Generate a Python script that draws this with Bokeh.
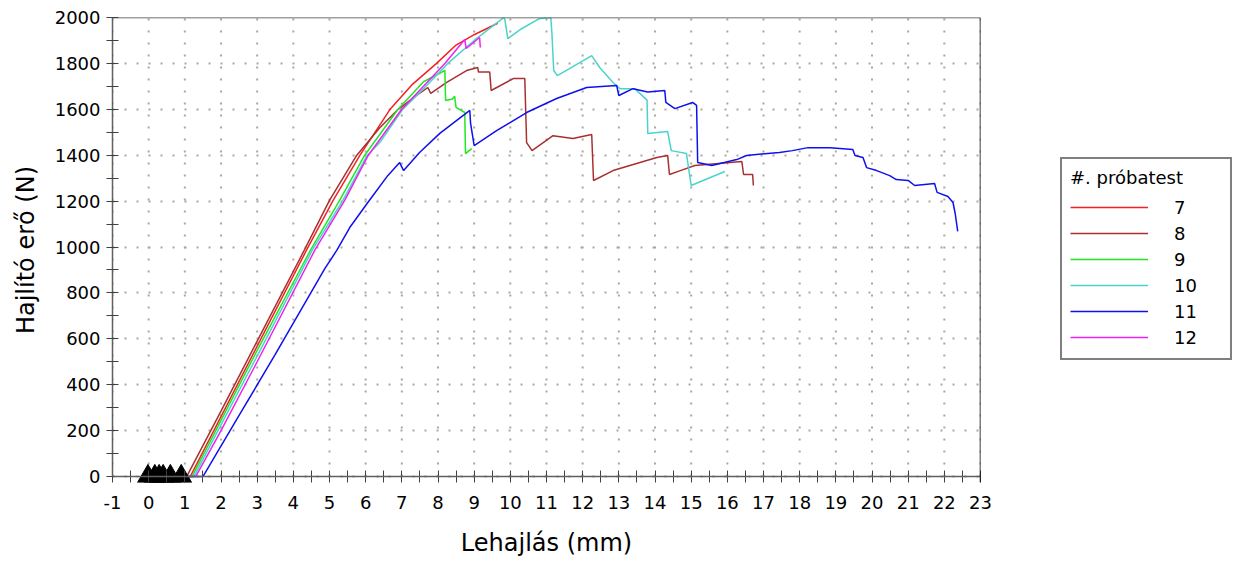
from bokeh.plotting import figure
from bokeh.layouts import row
from bokeh.models import Legend, LegendItem, FixedTicker, Range1d, Span
from bokeh.embed import file_html
from bokeh.resources import INLINE

# Three-point bending tests: bending force vs. deflection for specimens 7-12
specimens = ["7", "8", "9", "10", "11", "12"]
colors = ["#f52020", "#a83030", "#22e622", "#48d4cc", "#1010ee", "#f020f0"]

x7 = [0.0, 1.15, 2.0, 3.0, 4.36, 5.1, 5.84, 6.67, 7.3, 7.96, 8.5, 9.0, 9.65]
y7 = [0, 0, 261, 568, 985, 1203, 1399, 1599, 1710, 1800, 1880, 1925, 1975]

x8 = [0.0, 1.05, 2.0, 3.0, 4.3, 5.0, 5.75, 6.39, 6.9, 7.4, 7.72, 7.8, 8.24, 8.79,
      9.1, 9.12, 9.43, 9.47, 10.08, 10.4, 10.45, 10.6, 11.18, 11.73, 12.25, 12.3,
      12.84, 14.05, 14.35, 14.4, 14.7, 15.1, 16.4, 16.45, 16.7, 16.72]
y8 = [0, 0, 285, 590, 985, 1203, 1399, 1520, 1600, 1660, 1695, 1669, 1717, 1769,
      1782, 1762, 1762, 1682, 1734, 1734, 1455, 1420, 1485, 1473, 1490, 1290,
      1333, 1390, 1399, 1316, 1333, 1355, 1373, 1316, 1316, 1268]

x9 = [0.0, 1.2, 2.0, 3.0, 4.47, 5.28, 5.97, 6.89, 7.6, 8.19, 8.21, 8.4, 8.46,
      8.5, 8.74, 8.76, 8.93]
y9 = [0, 0, 245, 550, 985, 1203, 1399, 1599, 1720, 1769, 1638, 1645, 1657,
      1608, 1586, 1407, 1429]

x10 = [0.0, 1.25, 2.0, 3.0, 4.52, 5.37, 6.04, 6.39, 7.02, 7.6, 8.27, 9.0, 9.82,
       9.85, 9.93, 10.3, 10.8, 11.12, 11.15, 11.2, 11.3, 11.92, 12.25, 12.47,
       12.84, 13.03, 13.44, 13.78, 13.8, 14.35, 14.45, 14.87, 15.0, 15.93]
y10 = [0, 0, 225, 525, 985, 1203, 1399, 1455, 1599, 1690, 1800, 1900, 2000,
       1990, 1908, 1950, 1995, 2000, 1930, 1769, 1747, 1803, 1834, 1782,
       1717, 1690, 1690, 1640, 1495, 1503, 1420, 1407, 1268, 1329]

x11 = [0.9, 1.5, 2.5, 3.5, 4.87, 5.2, 5.56, 6.06, 6.61, 6.94, 7.05, 7.49, 8.05,
       8.88, 8.9, 9.0, 9.62, 10.45, 11.28, 12.11, 12.94, 13.0, 13.39, 13.8,
       14.27, 14.3, 14.55, 15.04, 15.15, 15.18, 15.57, 16.26, 16.53, 17.44,
       17.8, 18.23, 18.84, 19.47, 19.53, 19.75, 19.85, 20.13, 20.49, 20.67,
       21.0, 21.18, 21.73, 21.8, 22.1, 22.24, 22.3, 22.37]
y11 = [0, 0, 266, 532, 906, 985, 1085, 1194, 1311, 1368, 1333, 1412, 1495,
       1595, 1540, 1442, 1507, 1586, 1647, 1695, 1704, 1660, 1690, 1675,
       1682, 1630, 1603, 1630, 1617, 1368, 1355, 1381, 1399, 1412,
       1420, 1433, 1433, 1425, 1399, 1390, 1346, 1333, 1311, 1294,
       1290, 1268, 1277, 1238, 1220, 1194, 1146, 1068]

x12 = [0.0, 1.3, 2.0, 3.0, 4.59, 5.42, 6.07, 6.99, 7.6, 8.19, 8.74, 8.78, 9.15, 9.17]
y12 = [0, 0, 200, 500, 985, 1203, 1399, 1599, 1700, 1800, 1904, 1865, 1913, 1869]

# start markers on the zero line
start_x = [-0.02, 0.17, 0.29, 0.4, 0.6, 0.9]
start_y = [0, 0, 0, 0, 0, 0]

xs = [x7, x8, x9, x10, x11, x12]
ys = [y7, y8, y9, y10, y11, y12]

X_MIN, X_MAX = -1, 23
Y_MIN, Y_MAX = 0, 2000
x_ticks = list(range(X_MIN, X_MAX + 1))
x_minor = [t + 0.5 for t in range(X_MIN, X_MAX)]
y_ticks = list(range(Y_MIN, Y_MAX + 1, 200))
y_minor = list(range(100, Y_MAX, 200))

FONT = "DejaVu Sans"
GRID = "#aaa89c"

# the frame reaches slightly below zero so the start markers and the
# downward half of the x ticks stay visible; the zero line acts as the axis
p = figure(width=994, height=565, x_range=Range1d(X_MIN, X_MAX),
           y_range=Range1d(-26, Y_MAX),
           output_backend="svg", toolbar_location=None,
           min_border_left=112, min_border_right=14, min_border_top=17,
           min_border_bottom=83)
p.background_fill_color = "white"
p.border_fill_color = "white"
p.outline_line_color = None

p.yaxis.bounds = (Y_MIN, Y_MAX)
p.xaxis.ticker = FixedTicker(ticks=x_ticks, minor_ticks=x_minor)
p.yaxis.ticker = FixedTicker(ticks=y_ticks, minor_ticks=y_minor)
p.xaxis.major_label_overrides = {-1: "-1"}
for ax in (p.xaxis, p.yaxis):
    ax.axis_line_color = "#606060"
    ax.axis_line_width = 1.5
    ax.major_tick_line_color = "#404040"
    ax.minor_tick_line_color = "#404040"
    ax.major_tick_in = 6
    ax.major_tick_out = 6
    ax.minor_tick_in = 6
    ax.minor_tick_out = 6
    ax.major_label_text_font = FONT
    ax.major_label_text_font_size = "18px"
    ax.major_label_text_color = "black"
    ax.axis_label_text_font = FONT
    ax.axis_label_text_font_style = "normal"
    ax.axis_label_text_color = "black"
    ax.axis_label_text_font_size = "24px"
p.xaxis.axis_line_color = None
p.xaxis.major_tick_in = 12
p.xaxis.major_tick_out = 0
p.xaxis.minor_tick_in = 12
p.xaxis.minor_tick_out = 0
p.xaxis.axis_label = "Lehajlás (mm)"
p.yaxis.axis_label = "Hajlító erő (N)"
p.xaxis.major_label_standoff = 13
p.yaxis.major_label_standoff = 6
p.xaxis.axis_label_standoff = 17
p.yaxis.axis_label_standoff = 12

# dotted grid
p.ygrid.ticker = FixedTicker(ticks=y_ticks)
p.ygrid.grid_line_color = GRID
p.ygrid.grid_line_width = 2
p.ygrid.grid_line_dash = "2 10"
p.xgrid.visible = False
p.segment(x0=x_ticks, y0=[Y_MIN] * len(x_ticks), x1=x_ticks, y1=[Y_MAX] * len(x_ticks),
          line_color=GRID, line_width=2, line_dash="2 10")

# zero line, top and right border of the plotting box
p.add_layout(Span(location=Y_MIN, dimension="width", line_color="#606060", line_width=1.5))
p.add_layout(Span(location=Y_MAX, dimension="width", line_color="#404040", line_width=1.5))
p.add_layout(Span(location=X_MAX, dimension="height", line_color="black", line_width=1.5))

for c, x, y in zip(colors, xs, ys):
    p.line(x, y, line_color=c, line_width=1.5)

p.scatter(start_x, start_y, marker="triangle", size=21, fill_color="black",
          line_color="black")

# legend panel on the right; its handles sit outside the visible range
q = figure(width=240, height=565, x_range=Range1d(0, 1), y_range=Range1d(0, 1),
           output_backend="svg", toolbar_location=None,
           min_border=0, outline_line_color=None)
q.axis.visible = False
q.grid.visible = False
items = []
for name, c in zip(specimens, colors):
    r = q.line(x=[5, 6], y=[5, 5], line_color=c, line_width=1.5)
    items.append(LegendItem(label=name, renderers=[r]))

legend = Legend(items=items, location=(66, 122), title="#. próbatest")
legend.title_text_font = FONT
legend.title_text_font_size = "18px"
legend.title_text_font_style = "normal"
legend.title_text_color = "black"
legend.title_standoff = 6
legend.label_text_font = FONT
legend.label_text_font_size = "18px"
legend.label_text_color = "black"
legend.glyph_width = 78
legend.glyph_height = 26
legend.label_height = 26
legend.label_width = 48
legend.label_standoff = 26
legend.spacing = 0
legend.padding = 8
legend.margin = 0
legend.border_line_color = "black"
legend.border_line_width = 2
legend.background_fill_alpha = 1
q.add_layout(legend)

open("out.html", "w").write(file_html(row(p, q), INLINE))
